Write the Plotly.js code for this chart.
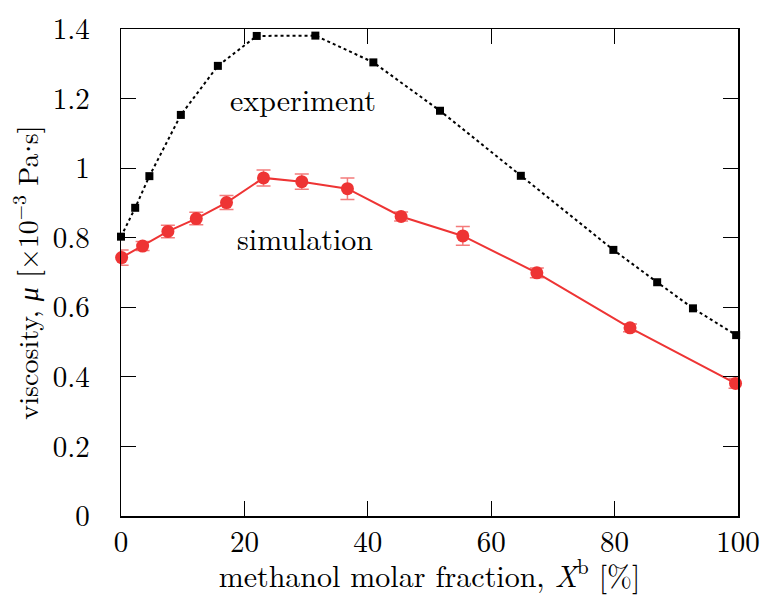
<!DOCTYPE html>
<html>
<head>
<meta charset="utf-8">
<script src="https://cdn.plot.ly/plotly-3.0.1.min.js"></script>
<style>html,body{margin:0;padding:0;background:#fff;}#chart{width:761px;height:596px;}</style>
</head>
<body>
<div id="chart"></div>
<script>
// experiment (black squares, dotted line)
const expX = [0, 2.3, 4.6, 9.7, 15.7, 22.0, 31.5, 40.9, 51.7, 64.8, 79.8, 86.9, 92.7, 99.7];
const expY = [0.803, 0.886, 0.977, 1.153, 1.294, 1.380, 1.381, 1.304, 1.165, 0.978, 0.765, 0.672, 0.597, 0.520];
// simulation (red circles with error bars)
const simX = [0.1, 3.5, 7.6, 12.2, 17.1, 23.1, 29.3, 36.7, 45.4, 55.4, 67.4, 82.5, 99.6];
const simY = [0.743, 0.776, 0.818, 0.855, 0.901, 0.972, 0.961, 0.941, 0.861, 0.805, 0.699, 0.541, 0.381];
const simErr = [0.022, 0.013, 0.018, 0.018, 0.020, 0.023, 0.022, 0.031, 0.013, 0.027, 0.014, 0.011, 0.014];
const xTicks = [0, 20, 40, 60, 80, 100];
const yTicks = [0, 0.2, 0.4, 0.6, 0.8, 1, 1.2, 1.4];
const yTickText = ["0", "0.2", "0.4", "0.6", "0.8", "1", "1.2", "1.4"];

const font = "Latin Modern Roman";
const red = "#ee3434";

const traces = [
  {
    x: expX, y: expY, type: "scatter", mode: "lines+markers", cliponaxis: false,
    line: {color: "#000", width: 2, dash: "dot"},
    marker: {symbol: "square", size: 8, color: "#000"},
    showlegend: false
  },
  {
    x: simX, y: simY, type: "scatter", mode: "lines+markers", cliponaxis: false,
    line: {color: red, width: 2},
    marker: {symbol: "circle", size: 13, color: red},
    error_y: {type: "data", array: simErr, visible: true, color: "rgba(238,52,52,0.65)", thickness: 1.5, width: 7},
    showlegend: false
  }
];

const axisCommon = {
  showgrid: false, zeroline: false, showline: true, mirror: "ticks",
  linecolor: "#000", linewidth: 1.5, ticks: "inside", ticklen: 15, tickwidth: 1,
  tickcolor: "#000", tickfont: {family: font, size: 29, color: "#000"}
};

const layout = {
  width: 761, height: 596,
  margin: {l: 121, r: 23, t: 29, b: 80},
  paper_bgcolor: "#fff", plot_bgcolor: "#fff",
  font: {family: font, color: "#000"},
  xaxis: Object.assign({}, axisCommon, {
    range: [0, 100], tickvals: xTicks, ticktext: xTicks.map(String),
    ticklabelstandoff: 0,
    title: {text: "methanol molar fraction, <i>X</i><sup>b</sup> [%]", font: {family: font, size: 30, color: "#000"}, standoff: 6}
  }),
  yaxis: Object.assign({}, axisCommon, {
    range: [0, 1.4], tickvals: yTicks, ticktext: yTickText,
    ticklabelstandoff: 24,
    title: {text: "viscosity, <i>μ</i> [×10<sup>−3</sup> Pa<span style=\"font-family:Liberation Serif\">·</span>s]", font: {family: font, size: 28, color: "#000"}, standoff: 6}
  }),
  annotations: [
    {x: 29.5, y: 1.20, xref: "x", yref: "y", text: "experiment", showarrow: false, font: {family: font, size: 30, color: "#000"}},
    {x: 29.8, y: 0.80, xref: "x", yref: "y", text: "simulation", showarrow: false, font: {family: font, size: 30, color: "#000"}}
  ]
};

Plotly.newPlot("chart", traces, layout, {displayModeBar: false, staticPlot: true});
</script>
</body>
</html>
